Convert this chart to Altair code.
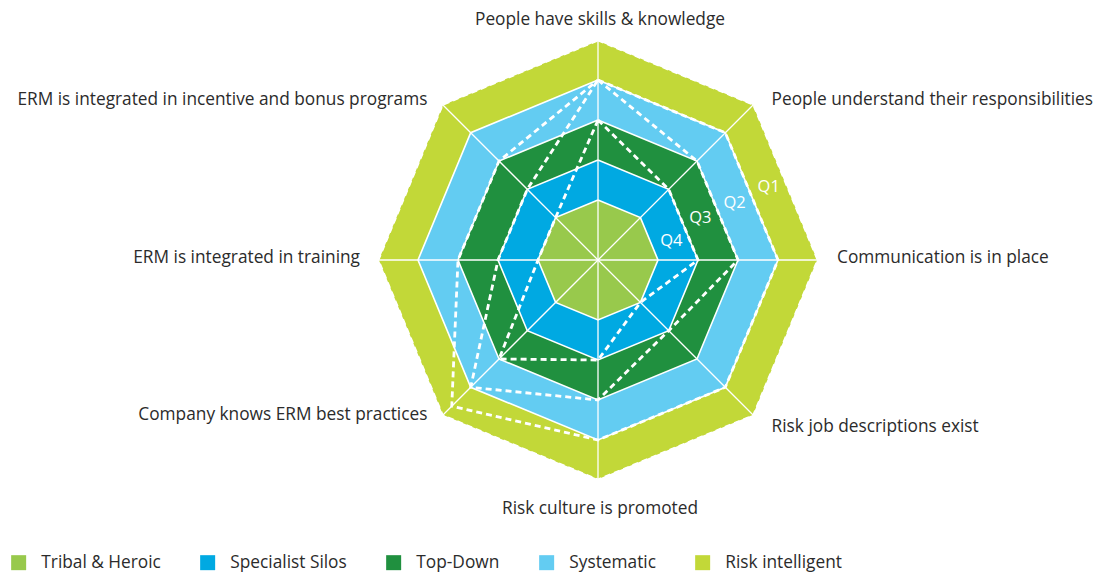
import altair as alt
import pandas as pd

# ---- data ----
axis_labels = [
    "People have skills & knowledge",
    "People understand their responsibilities",
    "Communication is in place",
    "Risk job descriptions exist",
    "Risk culture is promoted",
    "Company knows ERM best practices",
    "ERM is integrated in training",
    "ERM is integrated in incentive and bonus programs",
]
band_names = ["Tribal & Heroic", "Specialist Silos", "Top-Down", "Systematic", "Risk intelligent"]
band_colors = ["#98C94C", "#00A9E2", "#20903F", "#63CCF2", "#C2D838"]
band_edges = [1.5, 2.5, 3.5, 4.5, 5.5]
quarter_labels = ["Q4", "Q3", "Q2", "Q1"]

profile_a = [5.5, 5.5, 5.5, 5.5, 5.5, 5.5, 5.5, 5.5]
profile_b = [4.5, 4.5, 4.5, 4.5, 4.5, 5.17, 3.5, 3.5]
profile_c = [4.5, 3.5, 3.5, 2.5, 3.5, 4.5, 2.5, 2.5]
profile_d = [3.5, 2.5, 2.5, 1.5, 2.5, 3.5, 1.5, 1.5]

FONT = "Open Sans"
TXT = "#2b2b2b"
FS = 17.3

# ---- tables ----
band_rows = []
for name, edge in zip(band_names, band_edges):
    for i in range(9):
        band_rows.append({"band": name, "i": i, "r": edge})
band_df = pd.DataFrame(band_rows)

spoke_rows = []
for i in range(8):
    spoke_rows.append({"spoke": i, "i": i, "r": 0.0})
    spoke_rows.append({"spoke": i, "i": i, "r": band_edges[-1]})
spoke_df = pd.DataFrame(spoke_rows)

prof_rows = []
for pname, vals in [("a", profile_a), ("b", profile_b), ("c", profile_c), ("d", profile_d)]:
    for i in range(9):
        prof_rows.append({"profile": pname, "i": i, "r": vals[i % 8]})
prof_df = pd.DataFrame(prof_rows)

lab_df = pd.DataFrame({"label": axis_labels, "i": list(range(8)), "r": [band_edges[-1]] * 8})

q_rows = []
for k, q in enumerate(quarter_labels):
    q_rows.append({"q": q, "i": 1.5, "r": (band_edges[k] + band_edges[k + 1]) / 2 * 0.9239})
q_df = pd.DataFrame(q_rows)

# ---- scales ----
H = 565
xs = alt.Scale(domain=[-14.75, 12.575], nice=False, zero=False)
ys = alt.Scale(domain=[-(H - 252) / 40.0, 6.3], nice=False, zero=False)
X = alt.X("x:Q", scale=xs, axis=None)
Y = alt.Y("y:Q", scale=ys, axis=None)


def polar(ch):
    return ch.transform_calculate(
        x="datum.r * sin(datum.i * PI / 4)",
        y="datum.r * cos(datum.i * PI / 4)",
    )


color = alt.Color(
    "band:N",
    scale=alt.Scale(domain=band_names, range=band_colors),
    legend=alt.Legend(
        title=None,
        orient="none",
        legendX=2,
        legendY=546,
        direction="horizontal",
        symbolType="square",
        symbolSize=225,
        symbolStrokeWidth=0,
        symbolOpacity=1,
        labelFont=FONT,
        labelFontSize=FS,
        labelColor=TXT,
        labelOffset=14,
        columnPadding=38,
        padding=0,
    ),
)

layers = []
for name in reversed(band_names):
    layers.append(
        polar(alt.Chart(band_df).transform_filter(alt.datum.band == name))
        .mark_line(filled=True, stroke="white", strokeWidth=1.6, strokeJoin="miter")
        .encode(x=X, y=Y, order=alt.Order("i:Q"), color=color)
    )

layers.append(
    polar(alt.Chart(spoke_df))
    .mark_line(stroke="white", strokeWidth=1.3)
    .encode(x=X, y=Y, detail="spoke:N", order=alt.Order("r:Q"))
)

layers.append(
    polar(alt.Chart(prof_df))
    .mark_line(stroke="white", strokeWidth=2.8, strokeDash=[6, 4], strokeJoin="miter")
    .encode(x=X, y=Y, detail="profile:N", order=alt.Order("i:Q"))
)

# Q labels
for q, dx, dy in [("Q1", 0, -2), ("Q2", 0, 0), ("Q3", 0, 0), ("Q4", 5, 9)]:
    layers.append(
        polar(alt.Chart(q_df).transform_filter(alt.datum.q == q))
        .mark_text(font=FONT, fontSize=16.5, color="white", align="center", baseline="middle", dx=dx, dy=dy)
        .encode(x=X, y=Y, text="q:N")
    )

# axis labels
label_style = [
    ("center", 2, -20),
    ("left", 18, -4),
    ("left", 19, -2),
    ("left", 18, 11),
    ("center", 2, 29),
    ("right", -15, -1),
    ("right", -18, -2),
    ("right", -15, -4),
]
for i, (al, dx, dy) in enumerate(label_style):
    layers.append(
        polar(alt.Chart(lab_df).transform_filter(alt.datum.i == i))
        .mark_text(font=FONT, fontSize=FS, color=TXT, align=al, baseline="middle", dx=dx, dy=dy)
        .encode(x=X, y=Y, text="label:N")
    )

chart = (
    alt.layer(*layers)
    .properties(width=1093, height=H, autosize=alt.AutoSizeParams(type="none"), padding=0, background="white")
    .configure_view(stroke=None)
)

chart.save("out.html", embed_options={"renderer": "svg", "actions": False})
